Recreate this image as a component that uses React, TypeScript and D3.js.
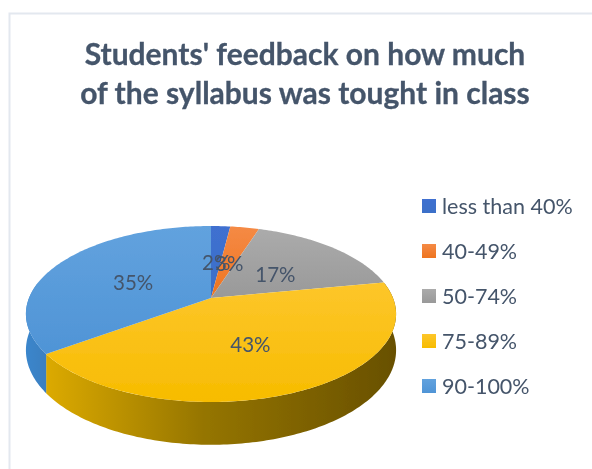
import React from "react";
import * as d3 from "d3";

const categories = ["less than 40%", "40-49%", "50-74%", "75-89%", "90-100%"];
const shares = [2, 3, 17, 43, 35];
const titleLines = ["Students' feedback on how much", "of the syllabus was tought in class"];
const topStops = [
  ["#3f6fd0", "#3b6fc8"],
  ["#f58a45", "#ee7420"],
  ["#ababab", "#999999"],
  ["#fdc62b", "#f7bc00"],
  ["#62a2de", "#4f94d6"],
];
const wallStops = [
  ["#2f5597", "#2f5597"],
  ["#b85a1c", "#b85a1c"],
  ["#777777", "#777777"],
  ["#dcaa00", "#685000"],
  ["#3a86cc", "#3a7fc0"],
];

const W = 592, H = 469;
const cx = 211, apexY = 298, R = 182;
const a = 30.9, c = -0.1818;
const depth = 35;
const textColor = "#44546a";

const project = (u: number, v: number) => {
  const den = 1 + c * v;
  return { x: cx + (R * u) / den, y: (a * v + apexY) / den, den };
};
const rim = (t: number, k = 1) => project(k * Math.sin(t), -k * Math.cos(t));

const line = d3.line<{ x: number; y: number }>().x(p => p.x).y(p => p.y);
const pieGen = d3.pie<number>().sort(null).startAngle(0).endAngle(2 * Math.PI);
const arcs = pieGen(shares);

const sample = (t0: number, t1: number) => {
  const n = Math.max(2, Math.ceil((t1 - t0) * 60));
  return d3.range(n + 1).map(i => t0 + ((t1 - t0) * i) / n);
};

// The wall is visible between the two points of greatest width on the rim.
const vis0 = Math.PI / 2 - Math.asin(Math.abs(c));
const vis1 = 2 * Math.PI - vis0;

export default function App() {
  const slices = arcs.map((d, i) => {
    const pts = sample(d.startAngle, d.endAngle).map(t => rim(t));
    return { i, path: line([project(0, 0), ...pts])! + "Z" };
  });
  const walls = arcs.flatMap((d, i) => {
    const t0 = Math.max(d.startAngle, vis0);
    const t1 = Math.min(d.endAngle, vis1);
    if (t1 <= t0) return [];
    const ts = sample(t0, t1);
    const up = ts.map(t => rim(t));
    const down = ts.slice().reverse().map(t => {
      const p = rim(t);
      return { x: p.x, y: p.y + depth / p.den };
    });
    return [{ i, path: line([...up, ...down])! + "Z", x0: d3.min(up, p => p.x)!, x1: d3.max(up, p => p.x)! }];
  });
  const labels = arcs.map((d, i) => {
    const p = rim((d.startAngle + d.endAngle) / 2, 0.5);
    return { i, x: p.x, y: p.y + 3, text: `${shares[i]}%` };
  });
  const legendY = d3.scalePoint<string>().domain(categories).range([206, 386]);

  return (
    <svg width={W} height={H} style={{ position: "absolute", left: 0, top: 0, background: "#fff" }}
      fontFamily="Lato, Carlito, sans-serif">
      <defs>
        <filter id="soft" x="-5%" y="-5%" width="110%" height="110%">
          <feGaussianBlur stdDeviation="0.55" />
        </filter>
        {topStops.map((s, i) => (
          <linearGradient key={i} id={`top${i}`} x1="0" y1="0" x2="0" y2="1">
            <stop offset="0" stopColor={s[0]} />
            <stop offset="1" stopColor={s[1]} />
          </linearGradient>
        ))}
        {walls.map(w => (
          <linearGradient key={w.i} id={`wall${w.i}`} gradientUnits="userSpaceOnUse"
            x1={w.x0} x2={w.x1} y1="0" y2="0">
            <stop offset="0" stopColor={wallStops[w.i][0]} />
            {w.i === 3 && <stop offset="0.45" stopColor="#957500" />}
            <stop offset="1" stopColor={wallStops[w.i][1]} />
          </linearGradient>
        ))}
      </defs>
      <g filter="url(#soft)">
        <path d={`M9.5 ${H}V13.5H${W}`} fill="none" stroke="#e3e8ef" strokeWidth="2" />
        <g fontWeight="700" fontSize="30" fill={textColor} textAnchor="middle" stroke={textColor} strokeWidth="0.3">
          {titleLines.map((t, i) => (
            <text key={t} x={305} y={[65, 104][i]}>{t}</text>
          ))}
        </g>
        {walls.map(w => <path key={w.i} d={w.path} fill={`url(#wall${w.i})`} />)}
        {slices.map(s => <path key={s.i} d={s.path} fill={`url(#top${s.i})`} />)}
        <g fontSize="20.5" fill={textColor} textAnchor="middle" dominantBaseline="central">
          {labels.map(l => <text key={l.i} x={l.x} y={l.y}>{l.text}</text>)}
        </g>
        {categories.map((cat, i) => {
          const y = legendY(cat)!;
          return (
            <g key={cat}>
              <rect x={422} y={y - 7} width={14} height={14} fill={`url(#top${i})`} />
              <text x={442} y={y} fontSize="21.5" fill={textColor} dominantBaseline="central">{cat}</text>
            </g>
          );
        })}
      </g>
    </svg>
  );
}
